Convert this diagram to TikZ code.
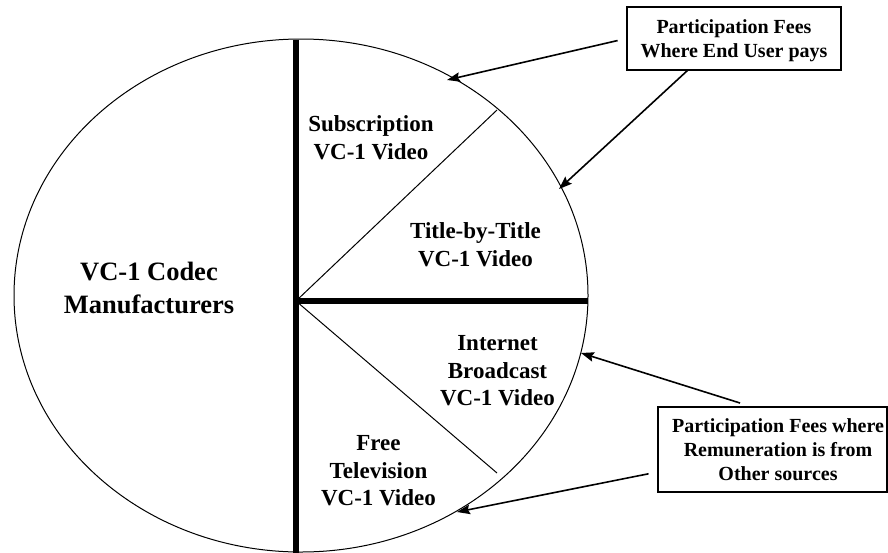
\documentclass[tikz,border=0pt]{standalone}
\usepackage{fontspec}
\setmainfont{Liberation Serif}
\usetikzlibrary{shapes.geometric,arrows.meta}
\tikzset{
  lbl/.style={inner sep=0pt, anchor=base, font=\bfseries\fontsize{23}{27.6}\selectfont},
  biglbl/.style={inner sep=0pt, anchor=base, font=\bfseries\fontsize{26.5}{32.6}\selectfont},
  boxlbl/.style={inner sep=0pt, anchor=base, font=\bfseries\fontsize{20}{24}\selectfont},
  feebox/.style={draw, line width=1.2pt, inner sep=0pt},
  thick divider/.style={line width=6pt},
  thin divider/.style={line width=1pt},
  pointer/.style={line width=1.6pt, -{Stealth[length=13pt,width=9.5pt,inset=2pt]}}
}
\begin{document}
\begin{tikzpicture}[x=1pt,y=-1pt]
\useasboundingbox (0,0) rectangle (888,552);
% pie
\node[ellipse, draw, line width=1pt, minimum width=574pt, minimum height=513pt, inner sep=0pt] (pie) at (301,295.5) {};
\coordinate (c) at (296,301);
\coordinate (vtop) at (296,39.5);
\coordinate (vbot) at (296,556);
\coordinate (hend) at (588,301);
\coordinate (d1) at (497,110);
\coordinate (d2) at (497,473);
\draw[thick divider] (vtop) -- (vbot);
\draw[thick divider] (c) -- (hend);
\draw[thin divider] (c) -- (d1);
\draw[thin divider] (c) -- (d2);
% labels
\node[biglbl] (mfr) at (149,280.7) {\begin{tabular}[t]{@{}c@{}}VC-1 Codec\\Manufacturers\end{tabular}};
\node[lbl] (sub) at (371,131.7) {\begin{tabular}[t]{@{}c@{}}Subscription\\VC-1 Video\end{tabular}};
\node[lbl] (ttl) at (475.5,238.4) {\begin{tabular}[t]{@{}c@{}}Title-by-Title\\VC-1 Video\end{tabular}};
\node[lbl] (inet) at (497.5,350.7) {\begin{tabular}[t]{@{}c@{}}Internet\\Broadcast\\VC-1 Video\end{tabular}};
\node[lbl] (free) at (378.5,450.7) {\begin{tabular}[t]{@{}c@{}}Free\\Television\\VC-1 Video\end{tabular}};
% boxes
\node[feebox, minimum width=214pt, minimum height=63pt] (box1) at (734,38.5) {};
\node[boxlbl] (box1t) at (734,33.3) {\begin{tabular}[t]{@{}c@{}}Participation Fees\\Where End User pays\end{tabular}};
\node[feebox, minimum width=229pt, minimum height=85pt] (box2) at (772.5,449.5) {};
\node[boxlbl] (box2t) at (778,432.7) {\begin{tabular}[t]{@{}c@{}}Participation Fees where\\Remuneration is from\\Other sources\end{tabular}};
% arrow ends
\coordinate (a2s) at (688,70);
\coordinate (a3s) at (740,403);
\coordinate (t1) at (447,80);
\coordinate (t2) at (559,189);
\coordinate (t3) at (581,353);
\coordinate (t4) at (457,512);
\draw[pointer, shorten <=9pt] (box1.west) -- (t1);
\draw[pointer] (a2s) -- (t2);
\draw[pointer] (a3s) -- (t3);
\draw[pointer, shorten <=9pt] (box2.west |- 0,472) -- (t4);
\end{tikzpicture}
\end{document}
